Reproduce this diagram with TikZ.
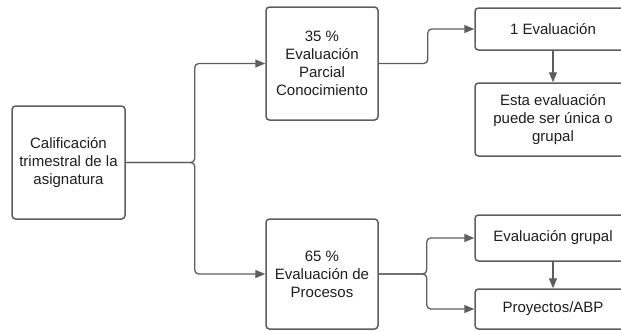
\documentclass[tikz,border=0pt]{standalone}
\usepackage{fontspec}
\setmainfont{Liberation Sans}
\usetikzlibrary{arrows.meta,positioning,calc}
\definecolor{edge}{HTML}{5E5E5E}
\definecolor{txt}{HTML}{1E1E1E}
\begin{document}
\begin{tikzpicture}[x=1pt,y=-1pt,
  box/.style={draw=edge, line width=1.5pt, rounded corners=3.5pt, fill=white,
    text=txt, align=center, inner sep=0pt,
    font=\fontsize{15}{18}\selectfont},
  conn/.style={draw=edge, line width=1.3pt, rounded corners=4pt,
    -{Triangle[length=10pt,width=8pt]}},
  plain/.style={draw=edge, line width=1.3pt, rounded corners=4pt}]
\clip (0,0) rectangle (621,330);
\fill[white] (0,0) rectangle (621,330);
% boxes
\node[box, minimum width=113pt, minimum height=113pt] (L) at (68.5,162.5) {Calificación\\trimestral de la\\asignatura};
\node[box, minimum width=112pt, minimum height=113pt] (M1) at (322,63.5) {35 \%\\Evaluación\\Parcial\\Conocimiento};
\node[box, minimum width=112pt, minimum height=110pt] (M2) at (322,274) {65 \%\\Evaluación de\\Procesos};
\node[box, minimum width=156pt, minimum height=42pt] (R1) at (553,29) {1 Evaluación};
\node[box, minimum width=156pt, minimum height=73pt] (R2) at (553,119.5) {Esta evaluación\\puede ser única o\\grupal};
\node[box, minimum width=156pt, minimum height=46pt] (R3) at (553,238) {Evaluación grupal};
\node[box, minimum width=156pt, minimum height=40pt] (R4) at (553,309) {Proyectos/ABP};
% connectors
\coordinate (j1) at ($(L.east)+(69,0)$);
\draw[conn] (L.east) -- (j1) |- (M1.west);
\draw[conn] (L.east) -- (j1) |- (M2.west);
\coordinate (j2) at ($(M1.east)+(49,0)$);
\draw[conn] (M1.east) -- (j2) |- (R1.west);
\coordinate (j3) at ($(M2.east)+(48,0)$);
\draw[conn] (M2.east) -- (j3) |- (R3.west);
\draw[conn] (M2.east) -- (j3) |- (R4.west);
\draw[conn] (R1.south) -- (R2.north);
\draw[conn] (R3.south) -- (R4.north);
\end{tikzpicture}
\end{document}
